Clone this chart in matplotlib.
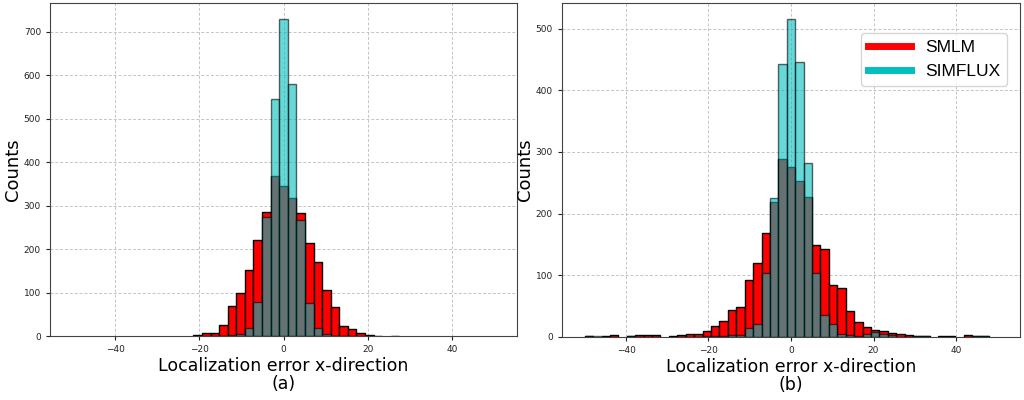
import numpy as np
import matplotlib
matplotlib.use("Agg")
import matplotlib.pyplot as plt
from matplotlib.lines import Line2D

# Histogram bins: 50 edges from -50 to 50 (49 bins)
bin_edges = np.linspace(-50, 50, 50)
bin_centers = 0.5 * (bin_edges[:-1] + bin_edges[1:])
bin_width = bin_edges[1] - bin_edges[0]

# Panel (a) counts per bin
smlm_a = [0, 0, 0, 0, 0, 0, 0, 0, 0, 0,
          0, 0, 0, 0, 2, 6, 8, 25, 69, 100,
          153, 221, 286, 368, 345, 317, 283, 214, 170, 106,
          66, 24, 17, 8, 2, 1, 0, 1, 0, 0,
          0, 0, 0, 0, 0, 0, 0, 0, 0]
simflux_a = [0, 0, 0, 0, 0, 0, 0, 0, 0, 0,
             0, 0, 0, 0, 0, 0, 0, 1, 2, 5,
             18, 78, 275, 546, 730, 579, 267, 76, 19, 4,
             1, 0, 0, 0, 1, 0, 0, 0, 0, 0,
             0, 0, 0, 0, 0, 0, 0, 0, 0]

# Panel (b) counts per bin
smlm_b = [1, 0, 1, 3, 0, 1, 2, 2, 2, 0,
          1, 2, 4, 4, 9, 17, 25, 44, 49, 92,
          119, 168, 218, 289, 275, 252, 227, 149, 142, 84,
          79, 42, 24, 16, 11, 9, 6, 4, 2, 1,
          1, 0, 1, 1, 0, 3, 1, 1, 0]
simflux_b = [1, 1, 0, 0, 0, 1, 0, 0, 0, 0,
             0, 0, 0, 0, 1, 1, 1, 2, 3, 14,
             21, 104, 225, 443, 516, 446, 282, 104, 35, 20,
             4, 2, 1, 5, 7, 4, 2, 0, 0, 1,
             1, 0, 0, 0, 0, 0, 1, 1, 0]

panel_labels = ["(a)", "(b)"]
series_names = ["SMLM", "SIMFLUX"]
xlabel = "Localization error x-direction"
ylabel = "Counts"

fig = plt.figure(figsize=(10.24, 4.0), dpi=100)
ax1 = fig.add_axes([50/1024, 1 - 336/400, 467/1024, 333/400])
ax2 = fig.add_axes([562/1024, 1 - 336.7/400, 458/1024, 333.7/400])


def draw_hist(ax, counts, **kw):
    counts = np.asarray(counts, dtype=float)
    m = counts > 0
    ax.bar(bin_centers[m], counts[m], width=bin_width, align='center', **kw)


for ax, sm, sf, pl in [(ax1, smlm_a, simflux_a, panel_labels[0]),
                       (ax2, smlm_b, simflux_b, panel_labels[1])]:
    ax.set_axisbelow(True)
    ax.grid(True, linestyle=(0, (3, 2)), color='#c4c4c4', linewidth=0.7)
    draw_hist(ax, sm, color='red', edgecolor='black', linewidth=1.0)
    draw_hist(ax, sf, color='c', alpha=0.6, edgecolor='black', linewidth=1.0)
    ax.set_xlim(-55.5, 55.5)
    ax.set_xticks([-40, -20, 0, 20, 40])
    ax.tick_params(labelsize=6.5, length=3, width=0.8, colors='#222222')
    ax.set_xlabel(xlabel + "\n" + pl, fontsize=12.5, linespacing=1.0, labelpad=2)
    ax.set_ylabel(ylabel, fontsize=13, labelpad=1)
    for s in ax.spines.values():
        s.set_color('#444444')

handles = [Line2D([0], [0], color='red', lw=5),
           Line2D([0], [0], color='c', lw=5)]
ax2.legend(handles, series_names, loc='upper right',
           bbox_to_anchor=(0.972, 0.91), borderaxespad=0,
           prop={'family': 'Liberation Sans', 'size': 12.5},
           handlelength=2.5, framealpha=0.8)

fig.savefig("out.png", dpi=100)
